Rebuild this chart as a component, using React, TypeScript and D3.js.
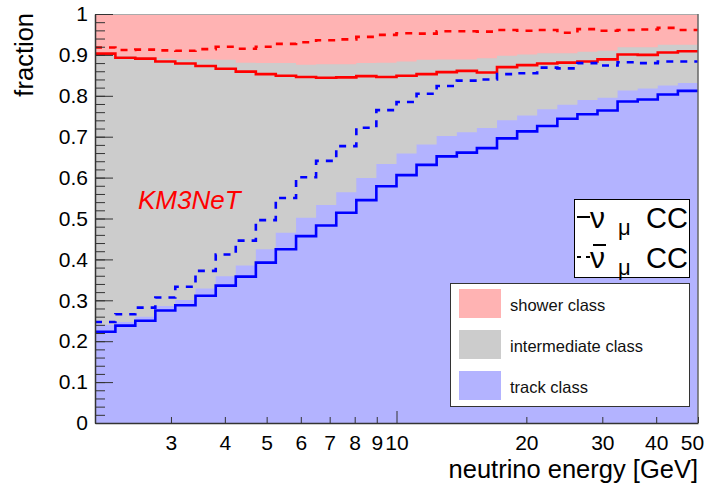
import { useRef, useEffect } from 'react';
import { select, scaleLog, scaleLinear, area, line, curveStepAfter, axisLeft, axisBottom } from 'd3';

// histogram bin edges (GeV), 30 log bins from 2 to 50
const binEdges = [2.0, 2.23, 2.48, 2.76, 3.07, 3.42, 3.81, 4.24, 4.72, 5.25, 5.85, 6.51, 7.25, 8.07, 8.98,
  10.0, 11.13, 12.39, 13.8, 15.36, 17.1, 19.04, 21.19, 23.6, 26.27, 29.24, 32.55, 36.24, 40.34, 44.91, 50.0];

// stacked class fractions (top of track band, top of intermediate band)
const trackTop = [0.240, 0.247, 0.260, 0.286, 0.301, 0.329, 0.359, 0.385, 0.425, 0.465, 0.502, 0.533, 0.564, 0.599, 0.633,
  0.659, 0.681, 0.702, 0.711, 0.721, 0.740, 0.752, 0.767, 0.778, 0.790, 0.795, 0.813, 0.818, 0.825, 0.831];
const intermediateTop = [0.905, 0.898, 0.895, 0.891, 0.889, 0.889, 0.888, 0.881, 0.880, 0.880, 0.876, 0.877, 0.877, 0.880, 0.881,
  0.884, 0.888, 0.889, 0.889, 0.892, 0.898, 0.901, 0.904, 0.904, 0.908, 0.910, 0.919, 0.919, 0.925, 0.925];

// nu_mu CC
const numuTrack = [0.223, 0.238, 0.250, 0.275, 0.288, 0.311, 0.336, 0.358, 0.392, 0.425, 0.457, 0.483, 0.514, 0.545, 0.579,
  0.606, 0.631, 0.652, 0.661, 0.672, 0.696, 0.713, 0.726, 0.744, 0.755, 0.764, 0.786, 0.791, 0.803, 0.812];
const numuNotShower = [0.903, 0.893, 0.891, 0.884, 0.879, 0.873, 0.866, 0.859, 0.853, 0.849, 0.846, 0.844, 0.845, 0.848, 0.846,
  0.849, 0.853, 0.858, 0.861, 0.857, 0.870, 0.875, 0.879, 0.881, 0.884, 0.889, 0.901, 0.900, 0.906, 0.909];

// anti nu_mu CC
const anumuTrack = [0.247, 0.266, 0.282, 0.307, 0.333, 0.372, 0.412, 0.446, 0.496, 0.550, 0.601, 0.641, 0.677, 0.722, 0.765,
  0.785, 0.805, 0.824, 0.837, 0.840, 0.853, 0.855, 0.869, 0.867, 0.880, 0.874, 0.882, 0.880, 0.884, 0.884];
const anumuNotShower = [0.918, 0.912, 0.913, 0.911, 0.910, 0.914, 0.920, 0.915, 0.920, 0.927, 0.931, 0.936, 0.938, 0.944, 0.949,
  0.953, 0.952, 0.958, 0.958, 0.957, 0.961, 0.959, 0.961, 0.954, 0.963, 0.959, 0.961, 0.962, 0.966, 0.961];

const yTicks = [0, 0.1, 0.2, 0.3, 0.4, 0.5, 0.6, 0.7, 0.8, 0.9, 1];
const yTickLabels = ['0', '0.1', '0.2', '0.3', '0.4', '0.5', '0.6', '0.7', '0.8', '0.9', '1'];
const xTicks = [3, 4, 5, 6, 7, 8, 9, 10, 20, 30, 40, 50];
const xTickLabels = ['3', '4', '5', '6', '7', '8', '9', '10', '20', '30', '40', '50'];

const classLegend = [
  { label: 'shower class', color: '#ffb3b3' },
  { label: 'intermediate class', color: '#cccccc' },
  { label: 'track class', color: '#b3b3ff' },
];

const FONT = '"Liberation Sans", Arial, Helvetica, sans-serif';

function steps(vals: number[]): [number, number][] {
  // one point per bin edge, last bin repeated to close the step
  return binEdges.map((e, i) => [e, vals[Math.min(i, vals.length - 1)]]);
}

export default function App() {
  const svgRef = useRef<SVGSVGElement>(null);

  useEffect(() => {
    const svg = select(svgRef.current);
    svg.selectAll('*').remove();

    const width = 709;
    const height = 486;
    const margin = { top: 14, right: 11, bottom: 63, left: 95 };

    const x = scaleLog().domain([2, 50]).range([margin.left, width - margin.right]);
    const y = scaleLinear().domain([0, 1]).range([height - margin.bottom, margin.top]);

    svg.append('rect').attr('width', width).attr('height', height).attr('fill', '#fff');

    // shower band = everything above intermediate
    svg.append('rect')
      .attr('x', x(2)).attr('y', y(1))
      .attr('width', x(50) - x(2)).attr('height', y(0) - y(1))
      .attr('fill', '#ffb3b3');

    const band = area<[number, number]>()
      .x(d => x(d[0]))
      .y0(y(0))
      .y1(d => y(d[1]))
      .curve(curveStepAfter);

    svg.append('path').attr('d', band(steps(intermediateTop))).attr('fill', '#cccccc');
    svg.append('path').attr('d', band(steps(trackTop))).attr('fill', '#b3b3ff');

    const stepLine = line<[number, number]>()
      .x(d => x(d[0]))
      .y(d => y(d[1]))
      .curve(curveStepAfter);

    const curves = [
      { vals: numuNotShower, color: '#ff0000', dash: null },
      { vals: anumuNotShower, color: '#ff0000', dash: '7,7' },
      { vals: numuTrack, color: '#0000ff', dash: null },
      { vals: anumuTrack, color: '#0000ff', dash: '7,7' },
    ];
    curves.forEach(c => {
      svg.append('path')
        .attr('d', stepLine(steps(c.vals)))
        .attr('fill', 'none')
        .attr('stroke', c.color)
        .attr('stroke-width', 2.6)
        .attr('stroke-dasharray', c.dash);
    });

    // frame top/right
    svg.append('line')
      .attr('x1', x(2)).attr('x2', x(50)).attr('y1', y(1) + 0.5).attr('y2', y(1) + 0.5)
      .attr('stroke', '#aaa').attr('stroke-width', 1);
    svg.append('line')
      .attr('x1', x(50)).attr('x2', x(50)).attr('y1', y(1)).attr('y2', y(0))
      .attr('stroke', '#666').attr('stroke-width', 1.5);

    // y axis: minor then major, ticks inside
    svg.append('g')
      .attr('transform', `translate(${x(2)},0)`)
      .call(axisLeft(y).ticks(50).tickSize(-10).tickSizeOuter(0).tickFormat(() => ''))
      .call(g => g.select('.domain').remove())
      .call(g => g.selectAll('line').attr('stroke', '#333'));

    svg.append('g')
      .attr('transform', `translate(${x(2)},0)`)
      .call(axisLeft(y).tickValues(yTicks).tickSize(-18).tickSizeOuter(0).tickPadding(7)
        .tickFormat((_, i) => yTickLabels[i]))
      .call(g => g.select('.domain').attr('stroke', '#333').attr('stroke-width', 1.5))
      .call(g => g.selectAll('line').attr('stroke', '#333'))
      .call(g => g.selectAll('text').attr('font-size', 21).attr('font-family', FONT).attr('fill', '#000'));

    svg.append('g')
      .attr('transform', `translate(0,${y(0)})`)
      .call(axisBottom(x).tickValues(xTicks).tickSize(-6).tickSizeOuter(0).tickPadding(12)
        .tickFormat((_, i) => xTickLabels[i]))
      .call(g => g.select('.domain').attr('stroke', '#333').attr('stroke-width', 1.5))
      .call(g => g.selectAll('line').attr('stroke', '#333').attr('y2', (d: any) => (d === 10 ? -12 : -6)))
      .call(g => g.selectAll('text').attr('font-size', 21).attr('font-family', FONT).attr('fill', '#000')
        .attr('dx', (d: any) => (d === 50 ? -6 : 0)));

    // axis titles
    svg.append('text')
      .attr('transform', `translate(33,${margin.top - 1}) rotate(-90)`)
      .attr('text-anchor', 'end')
      .attr('font-family', FONT).attr('font-size', 25.5)
      .text('fraction');
    svg.append('text')
      .attr('x', x(50)).attr('y', 478)
      .attr('text-anchor', 'end')
      .attr('font-family', FONT).attr('font-size', 25.5)
      .text('neutrino energy [GeV]');

    svg.append('text')
      .attr('x', 138).attr('y', 209)
      .attr('font-family', FONT).attr('font-size', 26).attr('font-style', 'italic')
      .attr('fill', '#ff0000')
      .text('KM3NeT');

    // flavour legend
    const lg = svg.append('g');
    lg.append('rect')
      .attr('x', 574.5).attr('y', 199.5).attr('width', 115).attr('height', 78)
      .attr('fill', '#fff').attr('stroke', '#000').attr('stroke-width', 1);
    lg.append('line').attr('x1', 577).attr('x2', 590).attr('y1', 217).attr('y2', 217)
      .attr('stroke', '#000').attr('stroke-width', 2);
    lg.append('line').attr('x1', 577).attr('x2', 590).attr('y1', 257).attr('y2', 257)
      .attr('stroke', '#000').attr('stroke-width', 2).attr('stroke-dasharray', '4,5');
    lg.append('line').attr('x1', 593).attr('x2', 606).attr('y1', 245).attr('y2', 245)
      .attr('stroke', '#000').attr('stroke-width', 2);
    [227.5, 267.5].forEach(b => {
      lg.append('text').attr('x', 590).attr('y', b)
        .attr('font-family', FONT).attr('font-size', 30).text('ν');
      lg.append('text').attr('x', 618).attr('y', b + 7)
        .attr('font-family', FONT).attr('font-size', 22).text('μ');
      lg.append('text').attr('x', 688).attr('y', b).attr('text-anchor', 'end')
        .attr('font-family', FONT).attr('font-size', 29).text('CC');
    });

    // class legend
    const cg = svg.append('g');
    cg.append('rect')
      .attr('x', 450.5).attr('y', 283.5).attr('width', 239).attr('height', 123)
      .attr('fill', '#fff').attr('stroke', '#333').attr('stroke-width', 1);
    classLegend.forEach((d, i) => {
      cg.append('rect')
        .attr('x', 459).attr('y', 289 + i * 41).attr('width', 42).attr('height', 29)
        .attr('fill', d.color);
      cg.append('text')
        .attr('x', 510).attr('y', 311 + i * 41)
        .attr('font-family', FONT).attr('font-size', 16.5).attr('fill', '#111')
        .text(d.label);
    });
  }, []);

  return <svg ref={svgRef} width={709} height={486} style={{ position: 'absolute', left: 0, top: 0 }}></svg>;
}
